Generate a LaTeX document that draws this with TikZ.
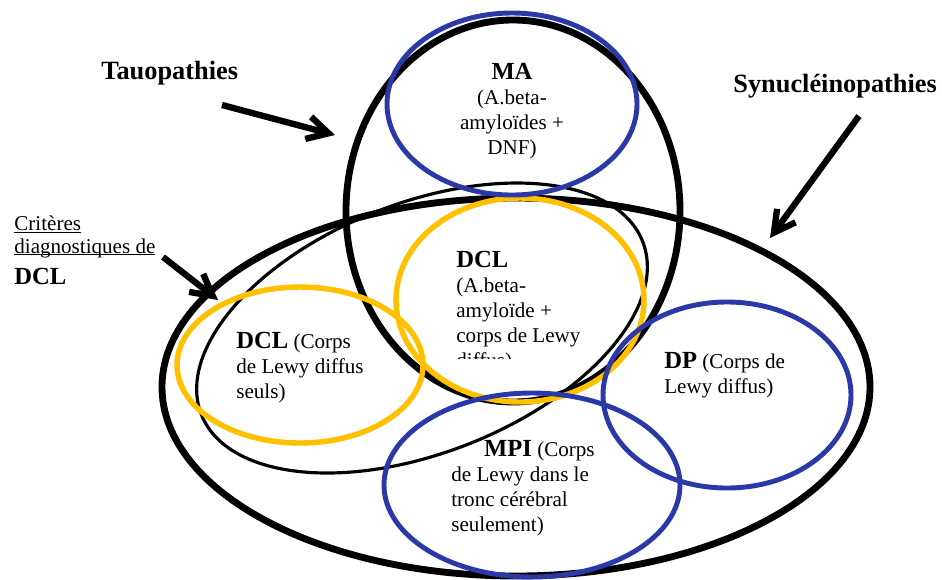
\documentclass[tikz,border=0pt]{standalone}
\usepackage{fontspec}
\setmainfont{Liberation Serif}
\usetikzlibrary{arrows.meta}
\definecolor{vblue}{RGB}{43,57,168}
\definecolor{vgold}{RGB}{255,192,0}
\newcommand{\hd}{\fontsize{14}{14.2}\selectfont\bfseries}
\newcommand{\hdb}{\fontsize{15}{15}\selectfont\bfseries}
\newcommand{\bd}{\fontsize{12}{14.2}\selectfont}
\newcommand{\uln}[1]{\setbox0\hbox{#1}\rlap{\rule[-1.3pt]{\wd0}{0.6pt}}\box0}
\begin{document}
\begin{tikzpicture}[x=0.02cm,y=0.02cm,
  thickline/.style={line width=3.9pt},
  blueline/.style={line width=2.8pt, draw=vblue},
  goldline/.style={line width=3.1pt, draw=vgold},
  thinline/.style={line width=1.8pt},
  pointer/.style={line width=3.6pt, -{Straight Barb[length=12pt,width=13pt]}},
  lbl/.style={inner sep=0pt, align=left, font=\bd},
]
\useasboundingbox (0,0) rectangle (942,-579);
\fill[white] (0,0) rectangle (942,-579);

% sets
\draw[thickline] (516,-387) ellipse [x radius=354, y radius=189];
\draw[thickline] (513,-211) ellipse [x radius=167, y radius=191];
\draw[thinline, rotate around={21.4:(422,-328)}] (422,-328) ellipse [x radius=237, y radius=125];
\draw[goldline] (300,-365) ellipse [x radius=123, y radius=78];
\draw[goldline] (520,-300) ellipse [x radius=124, y radius=102];
\draw[blueline] (512,-104) ellipse [x radius=125, y radius=91];
\draw[blueline] (727,-395) ellipse [x radius=124, y radius=93];
\draw[blueline] (532,-485) ellipse [x radius=148, y radius=92];

% outside labels (anchor base = baseline of the last line)
\node[lbl, anchor=base west] (tau) at (101,-79) {\hdb Tauopathies};
\node[lbl, anchor=base west] (syn) at (733,-92) {\hdb Synucléinopathies};
\node[lbl, anchor=base west] (crit) at (14,-284) {\uln{Critères}\\[-1.3pt]\uln{diagnostiques de}\\[3.4pt]{\hd DCL}};

% inside labels
\node[lbl, align=center, anchor=base] (ma) at (512,-154) {{\hd MA}\\(A.beta-\\amyloïdes +\\DNF)};
\begin{scope}
  \clip (400,-200) rectangle (660,-358);
  \node[lbl, anchor=base west] (dclc) at (456,-367) {{\hd DCL}\\(A.beta-\\amyloïde +\\corps de Lewy\\diffus)};
\end{scope}
\node[lbl, anchor=base west] (dcll) at (236,-398) {{\hd DCL} (Corps\\de Lewy diffus\\seuls)};
\node[lbl, anchor=base west] (dp) at (664,-393) {{\hd DP} (Corps de\\Lewy diffus)};
\node[lbl, anchor=base west] (mpi) at (451,-531) {\hspace*{18.7pt}{\hd MPI} (Corps\\de Lewy dans le\\tronc cérébral\\seulement)};

% arrows
\coordinate (tauS) at (222,-105); \coordinate (tauT) at (335,-135);
\coordinate (synS) at (859,-116); \coordinate (synT) at (770,-238);
\coordinate (critS) at (163,-257); \coordinate (critT) at (218,-300);
\draw[pointer] (tauS) -- (tauT);
\draw[pointer] (synS) -- (synT);
\draw[pointer] (critS) -- (critT);
\end{tikzpicture}
\end{document}
